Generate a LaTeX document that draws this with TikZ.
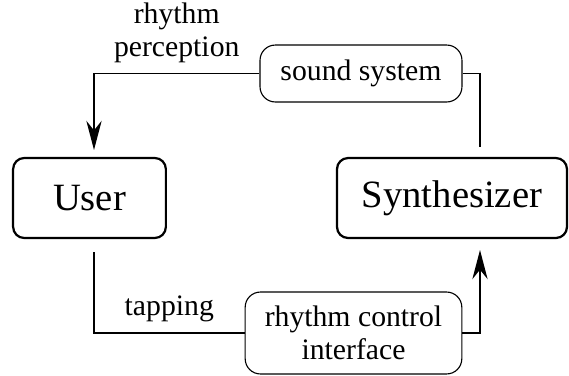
\documentclass[tikz,border=0pt]{standalone}
\usepackage{fontspec}
\setmainfont[Scale=1.07]{Liberation Serif}
\usetikzlibrary{arrows.meta}

\tikzset{
  bigbox/.style={draw, thick, rounded corners=4pt, font=\fontsize{13}{15}\selectfont,
    minimum height=28.8pt},
  smallbox/.style={draw, thin, rounded corners=5.5pt, align=center},
  flow/.style={semithick, -{Stealth[length=10.5pt, width=5.5pt]}}
}

\begin{document}
\begin{tikzpicture}[x=0.36pt, y=-0.36pt, semithick]
  \useasboundingbox (0,0) rectangle (569,375);

  \node[bigbox, minimum width=55pt] (user) at (89.5,198) {User};
  \node[bigbox, minimum width=82.8pt] (synth) at (452,198) {Synthesizer};
  \node[smallbox, minimum width=72.7pt, minimum height=20.5pt] (sound) at (361,73.5) {sound system};
  \node[smallbox, minimum width=78pt, minimum height=29.5pt] (ctrl) at (353.5,333) {rhythm control\\interface};

  \coordinate (userin) at (94,150);
  \coordinate (userout) at (94,252);
  \coordinate (synthin) at (480,147);
  \coordinate (synthout) at (480,250);

  \draw[flow] (sound.west) -| node[pos=0.25, above, align=center] {rhythm\\perception} (userin);
  \draw (sound.east) -| (synthin);
  \draw (userout) |- node[pos=0.75, above] {tapping} (ctrl.west);
  \draw[flow] (ctrl.east) -| (synthout);

\end{tikzpicture}
\end{document}
